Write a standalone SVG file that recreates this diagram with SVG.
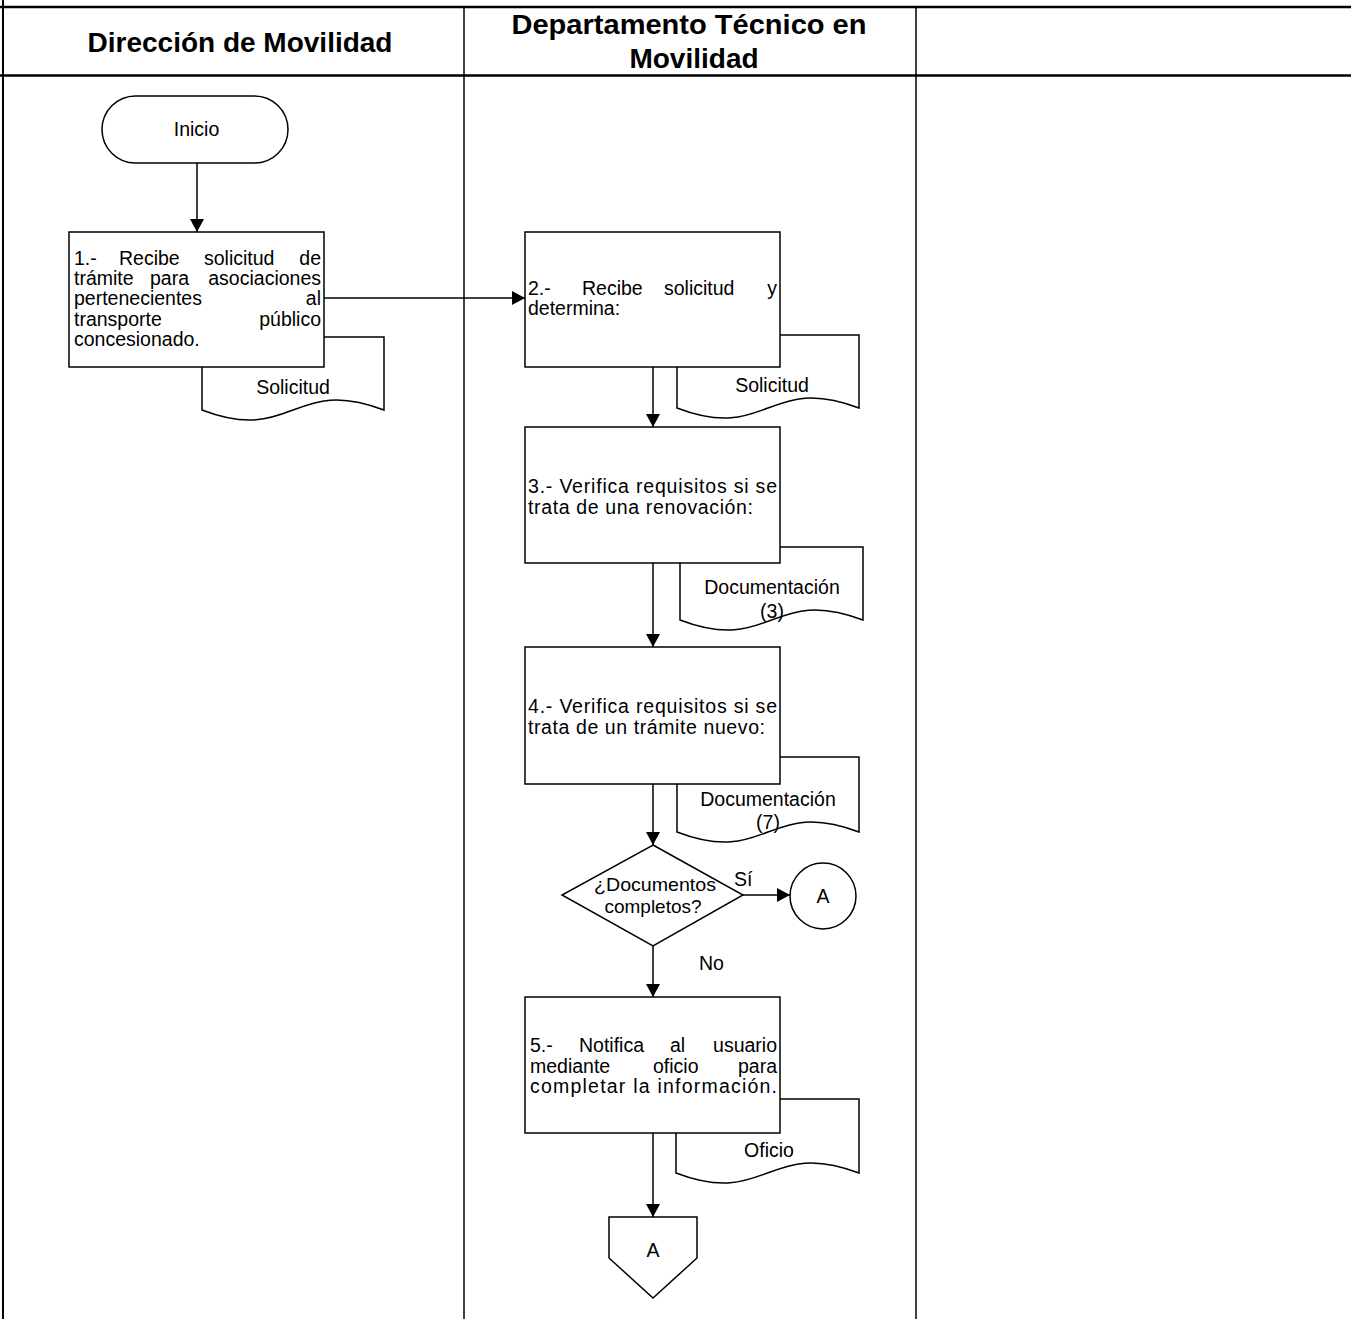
<svg xmlns="http://www.w3.org/2000/svg" width="1351" height="1319" viewBox="0 0 1351 1319">
<defs>
<style>
.t{font-family:"Liberation Sans",Arial,sans-serif;font-size:19.5px;fill:#000}
.d{font-size:18.5px}
.h{font-family:"Liberation Sans",Arial,sans-serif;font-size:28px;font-weight:bold;fill:#000;text-anchor:middle}
.m{text-anchor:middle}
.e{text-anchor:end}
.s{fill:#fff;stroke:#000;stroke-width:1.5}
.c{fill:none;stroke:#000;stroke-width:1.5}
.g{stroke:#000;fill:none}
</style>
<marker id="ar" viewBox="0 0 13 14" refX="13" refY="7" markerWidth="13" markerHeight="14" markerUnits="userSpaceOnUse" orient="auto">
<path d="M0,0 L13,7 L0,14 z" fill="#000"/>
</marker>
</defs>
<rect x="0" y="0" width="1351" height="1319" fill="#fff"/>
<g id="table">
<line class="g" x1="0" y1="7" x2="1351" y2="7" stroke-width="2.5"/>
<line class="g" x1="0" y1="75.5" x2="1351" y2="75.5" stroke-width="2.5"/>
<line class="g" x1="3" y1="0" x2="3" y2="1319" stroke-width="2"/>
<line class="g" x1="464" y1="7" x2="464" y2="1319" stroke-width="1.5"/>
<line class="g" x1="916" y1="7" x2="916" y2="1319" stroke-width="1.5"/>
<text class="h" x="240" y="52">Dirección de Movilidad</text>
<text class="h"><tspan x="689" y="34" textLength="355" lengthAdjust="spacingAndGlyphs">Departamento Técnico en</tspan><tspan x="694" y="68">Movilidad</tspan></text>
</g>
<g id="connectors">
<line class="c" x1="197" y1="163" x2="197" y2="232" marker-end="url(#ar)"/>
<line class="c" x1="324" y1="298" x2="525" y2="298" marker-end="url(#ar)"/>
<line class="c" x1="653" y1="367" x2="653" y2="427" marker-end="url(#ar)"/>
<line class="c" x1="653" y1="563" x2="653" y2="647" marker-end="url(#ar)"/>
<line class="c" x1="653" y1="784" x2="653" y2="845" marker-end="url(#ar)"/>
<line class="c" x1="743" y1="895" x2="790" y2="895" marker-end="url(#ar)"/>
<line class="c" x1="653" y1="946" x2="653" y2="997" marker-end="url(#ar)"/>
<line class="c" x1="653" y1="1133" x2="653" y2="1217" marker-end="url(#ar)"/>
<text class="t" x="734" y="886">Sí</text>
<text class="t" x="699" y="970">No</text>
</g>
<g id="inicio">
<rect class="s" x="102" y="96" width="186" height="67" rx="33.5"/>
<text class="t m" x="196.5" y="136">Inicio</text>
</g>
<g id="doc1">
<path class="s" d="M202,337 H384 V410 C293,375 293,445 202,410 Z"/>
<text class="t m" x="293" y="394">Solicitud</text>
</g>
<g id="step1">
<rect class="s" x="69" y="232" width="255" height="135"/>
<text class="t"><tspan x="74" y="264.5">1.-</tspan><tspan x="119" y="264.5">Recibe</tspan><tspan x="204" y="264.5">solicitud</tspan><tspan class="e" x="321" y="264.5">de</tspan><tspan x="74" y="285">trámite</tspan><tspan x="150" y="285">para</tspan><tspan class="e" x="321" y="285">asociaciones</tspan><tspan x="74" y="305.3">pertenecientes</tspan><tspan class="e" x="321" y="305.3">al</tspan><tspan x="74" y="325.6">transporte</tspan><tspan class="e" x="321" y="325.6">público</tspan><tspan x="74" y="346">concesionado.</tspan></text>
</g>
<g id="doc2">
<path class="s" d="M677,335 H859 V408 C768,373 768,443 677,408 Z"/>
<text class="t m" x="772" y="392">Solicitud</text>
</g>
<g id="step2">
<rect class="s" x="525" y="232" width="255" height="135"/>
<text class="t"><tspan x="528" y="294.5">2.-</tspan><tspan x="582" y="294.5">Recibe</tspan><tspan x="664" y="294.5">solicitud</tspan><tspan class="e" x="777" y="294.5">y</tspan><tspan x="528" y="315">determina:</tspan></text>
</g>
<g id="doc3">
<path class="s" d="M680,547 H863 V620 C771.5,585 771.5,655 680,620 Z"/>
<text class="t m"><tspan x="772" y="594">Documentación</tspan><tspan x="772" y="618">(3)</tspan></text>
</g>
<g id="step3">
<rect class="s" x="525" y="427" width="255" height="136"/>
<text class="t"><tspan x="528" y="493" textLength="249" lengthAdjust="spacing">3.- Verifica requisitos si se</tspan><tspan x="528" y="513.5" textLength="225" lengthAdjust="spacing">trata de una renovación:</tspan></text>
</g>
<g id="doc4">
<path class="s" d="M677,757 H859 V832 C768,797 768,867 677,832 Z"/>
<text class="t m"><tspan x="768" y="806">Documentación</tspan><tspan x="768" y="829">(7)</tspan></text>
</g>
<g id="step4">
<rect class="s" x="525" y="647" width="255" height="137"/>
<text class="t"><tspan x="528" y="713" textLength="249" lengthAdjust="spacing">4.- Verifica requisitos si se</tspan><tspan x="528" y="733.5" textLength="237" lengthAdjust="spacing">trata de un trámite nuevo:</tspan></text>
</g>
<g id="decision">
<polygon class="s" points="653,845 743,895 653,946 562,895"/>
<text class="t d m"><tspan x="655" y="891" textLength="122" lengthAdjust="spacingAndGlyphs">¿Documentos</tspan><tspan x="653" y="912.5" textLength="97" lengthAdjust="spacingAndGlyphs">completos?</tspan></text>
</g>
<g id="connA">
<circle class="s" cx="823" cy="896" r="33"/>
<text class="t m" x="823" y="903">A</text>
</g>
<g id="doc5">
<path class="s" d="M676,1099 H859 V1173 C767.5,1138 767.5,1208 676,1173 Z"/>
<text class="t m" x="769" y="1157">Oficio</text>
</g>
<g id="step5">
<rect class="s" x="525" y="997" width="255" height="136"/>
<text class="t"><tspan x="530" y="1052">5.-</tspan><tspan x="579" y="1052">Notifica</tspan><tspan x="670" y="1052">al</tspan><tspan class="e" x="777" y="1052">usuario</tspan><tspan x="530" y="1072.5">mediante</tspan><tspan x="653" y="1072.5">oficio</tspan><tspan class="e" x="777" y="1072.5">para</tspan><tspan x="530" y="1093" textLength="247" lengthAdjust="spacing">completar la información.</tspan></text>
</g>
<g id="offpageA">
<path class="s" d="M609,1217 H697 V1258 L653,1298 L609,1258 Z"/>
<text class="t m" x="653" y="1257">A</text>
</g>
</svg>
